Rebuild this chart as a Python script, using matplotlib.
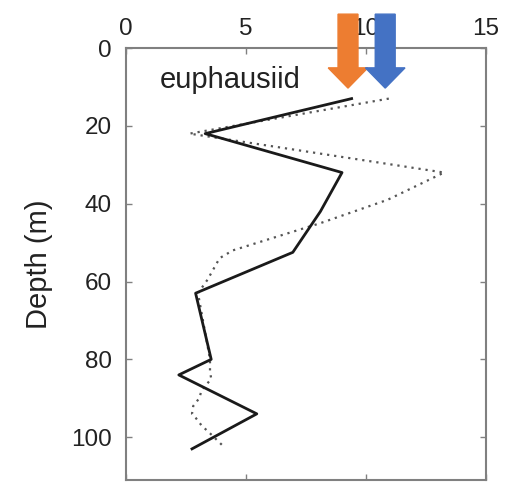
import matplotlib
matplotlib.use('Agg')
import matplotlib.pyplot as plt
from matplotlib.patches import FancyArrow

plt.rcParams['font.family'] = ['Liberation Sans', 'DejaVu Sans']

# solid profile
solid_depth = [13, 22, 32, 42, 52.5, 63, 80, 84, 94, 103]
solid_val = [9.4, 3.3, 9.0, 8.1, 6.95, 2.9, 3.55, 2.2, 5.45, 2.75]

# dotted profile
dot_depth = [13, 22, 32, 39, 45, 52, 54, 59.5, 63, 80, 83, 85, 88, 90, 92, 94, 95, 97, 99, 102]
dot_val = [10.95, 2.65, 13.25, 10.9, 8.1, 4.45, 3.9, 3.4, 3.0, 3.5, 3.5, 3.55, 3.15, 3.05, 2.8, 2.75, 2.9, 3.15, 3.5, 4.0]

# arrows at the top (x position of tip)
arrow_x = [9.25, 10.8]
arrow_colors = ['#ED7D31', '#4472C4']

fig = plt.figure(figsize=(5.13, 4.83), dpi=100)
ax = fig.add_axes([0.2456, 0.0062, 0.7018, 0.8944])

ax.plot(dot_val, dot_depth, linestyle=(0, (1, 2.2)), color='#555555', lw=1.6)
ax.plot(solid_val, solid_depth, '-', color='#1a1a1a', lw=2)

ax.set_xlim(0, 15)
ax.set_ylim(111, 0)
ax.set_xticks([0, 5, 10, 15])
ax.set_yticks([0, 20, 40, 60, 80, 100])
ax.xaxis.tick_top()
ax.tick_params(direction='in', length=4, width=1, colors='#808080',
               labelcolor='#222222', labelsize=17.5,
               top=True, bottom=True, left=True, right=True)
ax.tick_params(axis='x', pad=6)
ax.tick_params(axis='y', pad=10)
for s in ax.spines.values():
    s.set_color('#808080')
    s.set_linewidth(1.5)

ax.set_ylabel('Depth (m)', fontsize=21, labelpad=13, color='#222222')
ax.text(1.4, 8.2, 'euphausiid', fontsize=21, va='center', ha='left', color='#222222')

for xa, c in zip(arrow_x, arrow_colors):
    arr = FancyArrow(xa, -8.7, 0, 19.0, width=0.83, head_width=1.65,
                     head_length=5.2, length_includes_head=True,
                     color=c, clip_on=False, zorder=5)
    ax.add_patch(arr)

fig.savefig('out.png', dpi=100)
